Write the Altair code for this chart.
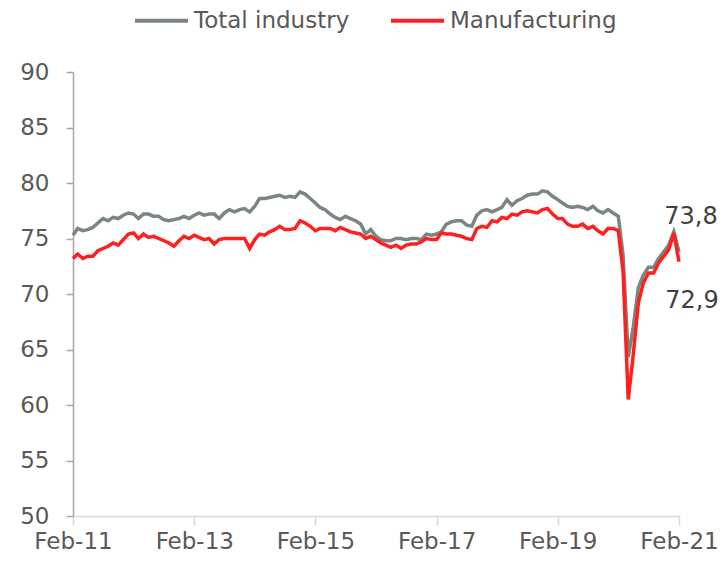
import altair as alt
import pandas as pd

# monthly dates Feb-2011 .. Feb-2021
dates = pd.date_range("2011-02-01", "2021-02-01", freq="MS").strftime("%Y-%m-%d").tolist()

total_industry = [
    75.3, 75.9, 75.7, 75.8, 76.0, 76.4, 76.8, 76.6, 76.9, 76.8, 77.1, 77.3,
    77.2, 76.8, 77.2, 77.2, 77.0, 77.0, 76.7, 76.6, 76.7, 76.8, 77.0, 76.8,
    77.1, 77.3, 77.1, 77.2, 77.2, 76.8, 77.3, 77.6, 77.4, 77.6, 77.7, 77.4,
    77.9, 78.6, 78.6, 78.7, 78.8, 78.9, 78.7, 78.8, 78.7, 79.2, 79.0, 78.6,
    78.2, 77.8, 77.6, 77.2, 76.9, 76.7, 77.0, 76.8, 76.6, 76.3, 75.4, 75.8,
    75.2, 74.9, 74.8, 74.8, 75.0, 75.0, 74.9, 75.0, 75.0, 74.9, 75.4, 75.3,
    75.4, 75.6, 76.3, 76.5, 76.6, 76.6, 76.2, 76.1, 77.1, 77.5, 77.6, 77.4,
    77.6, 77.8, 78.5, 78.0, 78.4, 78.6, 78.9, 79.0, 79.0, 79.3, 79.2, 78.8,
    78.5, 78.2, 77.9, 77.8, 77.9, 77.8, 77.6, 77.9, 77.5, 77.3, 77.6, 77.3,
    77.0, 73.5, 64.3, 67.0, 70.6, 71.7, 72.4, 72.4, 73.2, 73.8, 74.4, 75.6,
    73.8,
]

manufacturing = [
    73.2, 73.6, 73.2, 73.4, 73.4, 73.9, 74.1, 74.3, 74.6, 74.4, 74.9, 75.4,
    75.5, 75.0, 75.4, 75.1, 75.2, 75.0, 74.8, 74.6, 74.3, 74.8, 75.2, 75.0,
    75.3, 75.1, 74.9, 75.0, 74.5, 74.9, 75.0, 75.0, 75.0, 75.0, 75.0, 74.1,
    74.9, 75.4, 75.3, 75.6, 75.8, 76.1, 75.8, 75.8, 75.9, 76.6, 76.4, 76.1,
    75.7, 75.9, 75.9, 75.9, 75.7, 76.0, 75.8, 75.6, 75.5, 75.4, 75.0, 75.2,
    74.9, 74.6, 74.4, 74.2, 74.4, 74.1, 74.4, 74.5, 74.5, 74.7, 75.0, 74.9,
    74.9, 75.5, 75.4, 75.4, 75.3, 75.2, 75.0, 74.9, 75.9, 76.1, 76.0, 76.6,
    76.5, 76.9, 76.8, 77.2, 77.1, 77.4, 77.5, 77.4, 77.3, 77.6, 77.7, 77.2,
    76.8, 76.8, 76.3, 76.1, 76.1, 76.3, 75.9, 76.1, 75.7, 75.4, 75.9, 75.9,
    75.7, 72.0, 60.5, 64.5, 69.2, 71.0, 71.9, 71.9, 72.8, 73.4, 74.0, 75.5,
    72.9,
]

series_names = ["Total industry", "Manufacturing"]
series_colors = ["#7b8680", "#ff1f1f"]

end_dates = ["2021-02-01", "2021-02-01"]
end_values = [73.8, 72.9]
end_labels = ["73,8", "72,9"]

y_ticks = [50, 55, 60, 65, 70, 75, 80, 85, 90]
x_tick_years = [2011, 2013, 2015, 2017, 2019, 2021]

df = pd.DataFrame({
    "date": dates * 2,
    "value": total_industry + manufacturing,
    "series": [series_names[0]] * len(dates) + [series_names[1]] * len(dates),
    "order": [0] * len(dates) + [1] * len(dates),
})

lab = pd.DataFrame({"date": end_dates, "value": end_values, "label": end_labels})

FONT = "DejaVu Sans"
x_scale = alt.Scale(
    type="utc",
    domain=[alt.DateTime(year=2011, month=2, date=1, utc=True),
            alt.DateTime(year=2021, month=2, date=1, utc=True)],
    nice=False,
)
y_scale = alt.Scale(domain=[50, 90], nice=False, zero=False)

x_axis = alt.Axis(
    values=[alt.DateTime(year=y, month=2, date=1, utc=True) for y in x_tick_years],
    labelExpr="utcFormat(datum.value, '%b-%y')", title=None, grid=False,
    labelFont=FONT, labelFontSize=23, labelColor="#595959", labelPadding=5,
    domainColor="#d9d9d9", domainWidth=1.5, tickColor="#d9d9d9", tickSize=9, tickWidth=1.5,
    labelFlush=False, labelOverlap=False,
)
y_axis = alt.Axis(
    values=y_ticks, title=None, grid=False,
    labelFont=FONT, labelFontSize=23, labelColor="#595959", labelPadding=17,
    domainColor="#a6a6a6", domainWidth=1.5, tickColor="#a6a6a6", tickSize=7, tickWidth=1.5,
)

lines = alt.Chart(df).mark_line(strokeWidth=3.5).encode(
    x=alt.X("date:T", scale=x_scale, axis=x_axis),
    y=alt.Y("value:Q", scale=y_scale, axis=y_axis),
    color=alt.Color(
        "series:N",
        scale=alt.Scale(domain=series_names, range=series_colors),
        sort=series_names,
        legend=alt.Legend(
            title=None, orient="none", legendX=60, legendY=-80, direction="horizontal",
            symbolType="stroke", symbolSize=2809, symbolStrokeWidth=4,
            labelFont=FONT, labelFontSize=23, labelColor="#595959",
            columnPadding=33, labelOffset=4, labelLimit=300,
        ),
    ),
    order=alt.Order("order:Q"),
)

lab_top = alt.Chart(lab.iloc[[0]]).mark_text(
    font=FONT, fontSize=24, color="#404040", align="center", baseline="middle", dx=12, dy=-35
).encode(x=alt.X("date:T", scale=x_scale), y=alt.Y("value:Q", scale=y_scale), text="label:N")

lab_bot = alt.Chart(lab.iloc[[1]]).mark_text(
    font=FONT, fontSize=24, color="#404040", align="center", baseline="middle", dx=13, dy=39
).encode(x=alt.X("date:T", scale=x_scale), y=alt.Y("value:Q", scale=y_scale), text="label:N")

chart = alt.layer(lines, lab_top, lab_bot).properties(
    width=606, height=444,
    autosize="none",
    padding={"left": 65, "top": 64, "right": 41, "bottom": 41},
).configure_view(stroke=None)

chart.save("out.html", embed_options={"renderer": "svg", "actions": False})
